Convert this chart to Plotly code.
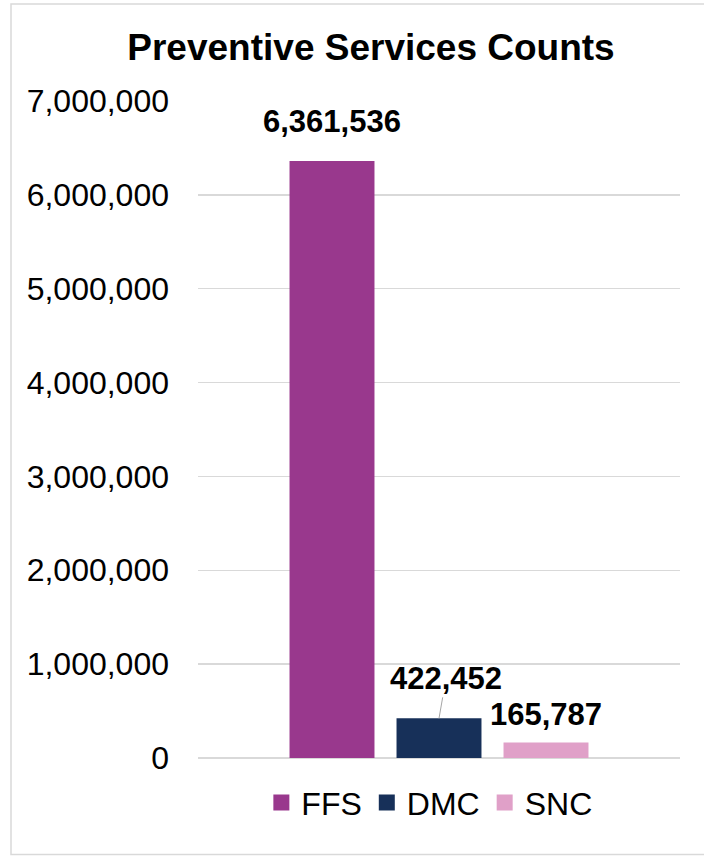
import plotly.graph_objects as go

series = ["FFS", "DMC", "SNC"]
values = [6361536, 422452, 165787]
tick_vals = [0, 1000000, 2000000, 3000000, 4000000, 5000000, 6000000, 7000000]

colors = ["#99388D", "#173059", "#E0A0C8"]
label_shift = [39, 40, 28]   # pixel offsets of value labels above the bars
positions = [0, 1, 2]

FONT = "Liberation Sans, Arial, sans-serif"

fig = go.Figure()
for i, (name, val) in enumerate(zip(series, values)):
    fig.add_trace(go.Bar(
        x=[positions[i]], y=[val], name=name, width=0.794,
        marker=dict(color=colors[i], line=dict(width=0)),
        showlegend=False, hoverinfo="skip",
    ))
    # legend entries with square markers
    fig.add_trace(go.Scatter(
        x=[None], y=[None], mode="markers", name=name,
        marker=dict(symbol="square", size=17, color=colors[i]),
    ))

# value labels
for i, val in enumerate(values):
    if series[i] == "DMC":
        fig.add_annotation(
            x=positions[i], y=val, text=f"<b>{val:,}</b>",
            showarrow=True, arrowhead=0, arrowwidth=1, arrowcolor="#A6A6A6",
            ax=7, ay=-label_shift[i], standoff=0,
            font=dict(family=FONT, size=31, color="#000000"),
        )
    else:
        fig.add_annotation(
            x=positions[i], y=val, text=f"<b>{val:,}</b>",
            showarrow=False, yshift=label_shift[i],
            font=dict(family=FONT, size=31, color="#000000"),
        )

# chart border: left, top and bottom edges (right edge is outside the visible area)
bx0 = -(198 - 11) / 482
bx1 = 1.2
by0 = -(854.5 - 758) / 657
by1 = (758 - 4) / 657
fig.add_shape(type="path", xref="paper", yref="paper",
              path=f"M {bx1},{by1} L {bx0},{by1} L {bx0},{by0} L {bx1},{by0}",
              line=dict(color="#D9D9D9", width=1.5), layer="below")

fig.update_layout(
    width=704, height=856,
    margin=dict(l=198, r=24, t=101, b=98),
    paper_bgcolor="white", plot_bgcolor="white",
    font=dict(family=FONT, color="#000000"),
    title=dict(text="<b>Preventive Services Counts</b>", xref="container", yref="container",
               x=371 / 704, y=1 - 47 / 856, xanchor="center", yanchor="middle",
               font=dict(family=FONT, size=37, color="#000000")),
    xaxis=dict(range=[-1.2523, 3.2523], showticklabels=False, showgrid=False,
               zeroline=False, showline=False, fixedrange=True),
    yaxis=dict(range=[0, 7000000], tickvals=tick_vals, tickformat=",d",
               showgrid=True, gridcolor="#D9D9D9", gridwidth=1.3,
               zeroline=True, zerolinecolor="#D9D9D9", zerolinewidth=1.3,
               showline=False, ticks="", ticklabelstandoff=28,
               tickfont=dict(family=FONT, size=32, color="#000000")),
    legend=dict(orientation="h", x=0.48, xanchor="center", y=-0.068, yanchor="middle",
                font=dict(family=FONT, size=32, color="#000000"),
                itemsizing="trace", traceorder="normal", itemwidth=30),
    showlegend=True,
)

fig.write_html(
    "out.html",
    config={"displayModeBar": False, "staticPlot": True},
    post_script="document.body.style.margin='0';document.body.style.overflow='hidden';",
)
